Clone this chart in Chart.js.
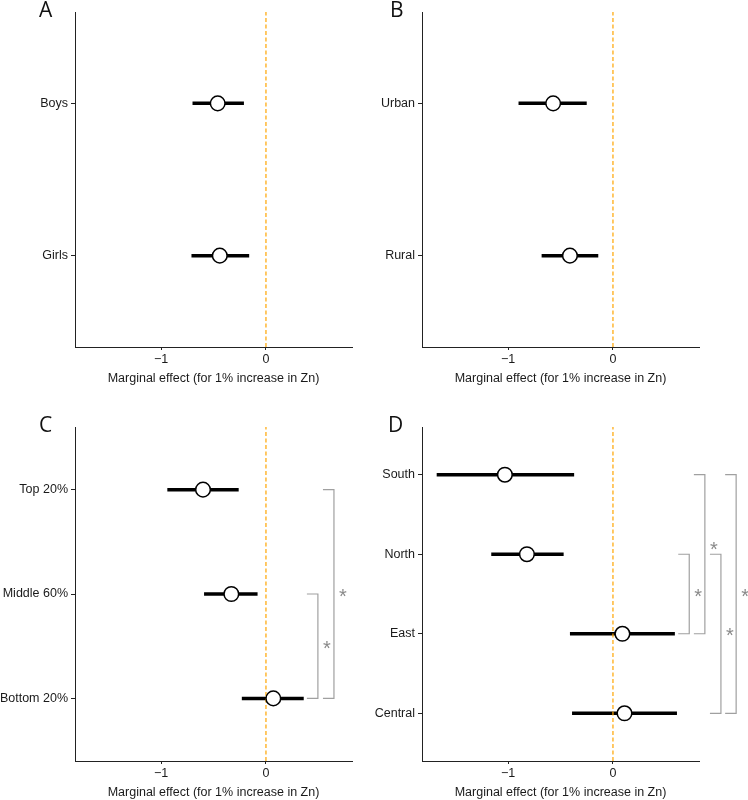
<!DOCTYPE html>
<html>
<head>
<meta charset="utf-8">
<script src="https://cdn.jsdelivr.net/npm/chart.js@4.4.0/dist/chart.umd.min.js"></script>
<style>
  body { margin: 0; background: #fff; }
  #wrap { position: relative; width: 748px; height: 800px; overflow: hidden; }
  .panel { position: absolute; width: 374px; height: 400px; }
  .tag { position: absolute; font-family: 'Open Sans', sans-serif; font-size: 21px; line-height: 21px; color: #111; }
</style>
</head>
<body>
<div id="wrap">
  <canvas id="panelA" class="panel" width="374" height="400" style="left:0;top:0"></canvas>
  <canvas id="panelB" class="panel" width="374" height="400" style="left:374px;top:0"></canvas>
  <canvas id="panelC" class="panel" width="374" height="400" style="left:0;top:400px"></canvas>
  <canvas id="panelD" class="panel" width="374" height="400" style="left:374px;top:400px"></canvas>
  <div class="tag" style="left:39px;top:-1px">A</div>
  <div class="tag" style="left:390px;top:-1px">B</div>
  <div class="tag" style="left:39px;top:414px">C</div>
  <div class="tag" style="left:388px;top:414px">D</div>
</div>
<script>
// shared x axis
const xTicks = [-1, 0];
const xMin = -1.82;
const xMax = 0.82;
const xTitle = 'Marginal effect (for 1% increase in Zn)';

// A: sex
const sexLabels = ['Boys', 'Girls'];
const sexEst = [-0.46, -0.44];
const sexLow = [-0.70, -0.71];
const sexHigh = [-0.21, -0.16];

// B: residence
const areaLabels = ['Urban', 'Rural'];
const areaEst = [-0.57, -0.41];
const areaLow = [-0.90, -0.68];
const areaHigh = [-0.25, -0.14];

// C: wealth
const wealthLabels = ['Top 20%', 'Middle 60%', 'Bottom 20%'];
const wealthEst = [-0.60, -0.33, 0.07];
const wealthLow = [-0.94, -0.59, -0.23];
const wealthHigh = [-0.26, -0.08, 0.36];
const wealthSig = [
  { from: 'Middle 60%', to: 'Bottom 20%', at: 0.495, label: '*' },
  { from: 'Top 20%', to: 'Bottom 20%', at: 0.648, label: '*' }
];

// D: region
const regionLabels = ['South', 'North', 'East', 'Central'];
const regionEst = [-1.03, -0.82, 0.09, 0.11];
const regionLow = [-1.68, -1.16, -0.41, -0.39];
const regionHigh = [-0.37, -0.47, 0.59, 0.61];
const regionSig = [
  { from: 'North', to: 'East', at: 0.727, label: '*' },
  { from: 'South', to: 'East', at: 0.876, label: '*', labelPos: 3.09 },
  { from: 'North', to: 'Central', at: 1.029, label: '*' },
  { from: 'South', to: 'Central', at: 1.174, label: '*' }
];

const textFont = { family: "'Liberation Sans', Arial, sans-serif", size: 12.5 };
const textColor = '#1a1a1a';
const axisColor = '#222';

function forestPanel(id, labels, est, low, high, sig, box) {
  const n = labels.length;
  const yOf = i => n - i;
  const yOfLabel = l => yOf(labels.indexOf(l));

  const datasets = [{
    type: 'scatter',
    data: est.map((v, i) => ({ x: v, y: yOf(i) })),
    pointRadius: 7.3,
    pointBorderWidth: 1.5,
    pointBackgroundColor: '#fff',
    pointBorderColor: '#000',
    order: 0
  }, {
    type: 'line',
    data: [{ x: 0, y: 0.4 }, { x: 0, y: n + 0.6 }],
    borderColor: '#FFA500',
    borderWidth: 1.2,
    borderDash: [4, 2.5],
    pointRadius: 0,
    order: 1
  }];
  labels.forEach((_, i) => {
    datasets.push({
      type: 'line',
      data: [{ x: low[i], y: yOf(i) }, { x: high[i], y: yOf(i) }],
      borderColor: '#000',
      borderWidth: 3.5,
      borderCapStyle: 'butt',
      pointRadius: 0,
      order: 2
    });
  });

  // significance brackets, drawn outside the plot area
  const brackets = {
    id: 'brackets',
    afterDatasetsDraw(chart) {
      const { ctx, scales: { x, y } } = chart;
      ctx.save();
      sig.forEach(b => {
        const ya = y.getPixelForValue(yOfLabel(b.from));
        const yb = y.getPixelForValue(yOfLabel(b.to));
        const xp = x.getPixelForValue(b.at);
        ctx.strokeStyle = '#a0a0a0';
        ctx.lineWidth = 1.2;
        ctx.beginPath();
        ctx.moveTo(xp - 11, ya);
        ctx.lineTo(xp, ya);
        ctx.lineTo(xp, yb);
        ctx.lineTo(xp - 11, yb);
        ctx.stroke();
        const mid = b.labelPos !== undefined ? y.getPixelForValue(b.labelPos) : (ya + yb) / 2;
        ctx.fillStyle = '#8a8a8a';
        ctx.font = "20px 'Liberation Sans', Arial, sans-serif";
        ctx.textAlign = 'center';
        ctx.textBaseline = 'alphabetic';
        ctx.fillText(b.label, xp + 9, mid + 8.5);
      });
      ctx.restore();
    }
  };

  return new Chart(document.getElementById(id), {
    type: 'scatter',
    data: { datasets },
    plugins: [brackets],
    options: {
      responsive: false,
      devicePixelRatio: 1,
      animation: false,
      events: [],
      layout: { padding: { top: box.top, right: box.right, left: 0, bottom: 0 } },
      plugins: { legend: { display: false }, tooltip: { enabled: false } },
      scales: {
        x: {
          type: 'linear',
          min: xMin,
          max: xMax,
          afterBuildTicks: s => { s.ticks = xTicks.map(v => ({ value: v })); },
          afterFit: s => { s.height = box.xHeight; },
          ticks: {
            callback: v => (v < 0 ? '\u2212' + Math.abs(v) : String(v)),
            font: textFont, color: textColor, padding: 2, maxRotation: 0, autoSkip: false
          },
          grid: { drawOnChartArea: false, drawTicks: true, tickLength: 3, color: axisColor },
          border: { color: axisColor, width: 1 },
          title: {
            display: true, text: xTitle, font: textFont, color: textColor,
            padding: { top: 0, bottom: box.titlePad }
          }
        },
        y: {
          type: 'linear',
          min: 0.4,
          max: n + 0.6,
          afterBuildTicks: s => { s.ticks = labels.map((_, i) => ({ value: yOf(i) })); },
          afterFit: s => { s.width = box.yWidth; },
          ticks: {
            callback: v => labels[n - v],
            font: textFont, color: textColor, padding: 3, autoSkip: false
          },
          grid: { drawOnChartArea: false, drawTicks: true, tickLength: 4, color: axisColor },
          border: { color: axisColor, width: 1 }
        }
      }
    }
  });
}

forestPanel('panelA', sexLabels, sexEst, sexLow, sexHigh, [],
  { top: 12, right: 22, yWidth: 75, xHeight: 53, titlePad: 13.5 });
forestPanel('panelB', areaLabels, areaEst, areaLow, areaHigh, [],
  { top: 12, right: 49, yWidth: 48, xHeight: 53, titlePad: 13.5 });
forestPanel('panelC', wealthLabels, wealthEst, wealthLow, wealthHigh, wealthSig,
  { top: 27, right: 22, yWidth: 75, xHeight: 39, titlePad: 0 });
forestPanel('panelD', regionLabels, regionEst, regionLow, regionHigh, regionSig,
  { top: 27, right: 49, yWidth: 48, xHeight: 39, titlePad: 0 });
</script>
</body>
</html>
